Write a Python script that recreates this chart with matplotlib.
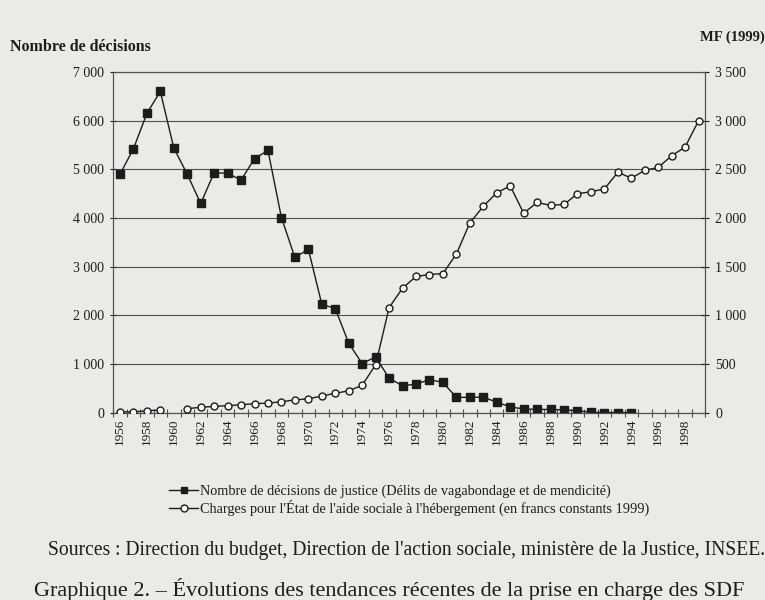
import numpy as np
import matplotlib
matplotlib.use("Agg")
import matplotlib.pyplot as plt
from matplotlib.ticker import FuncFormatter, FixedLocator
from matplotlib.lines import Line2D

plt.rcParams['font.family'] = ['Liberation Serif', 'DejaVu Serif']

years = list(range(1956, 2000))

# Court decisions (vagrancy and begging offences), 1956-1994
decisions = [4900, 5420, 6150, 6600, 5440, 4900, 4300, 4930, 4920, 4780,
             5220, 5390, 4010, 3190, 3360, 2230, 2140, 1430, 1010, 1150,
             710, 555, 590, 680, 625, 315, 320, 320, 220, 120,
             80, 70, 70, 60, 45, 10, 5, 5, 5]

# State expenditure on social housing aid, MF 1999 (1960 not available)
charges = [10, 10, 20, 30, np.nan, 43, 56, 66, 73, 83,
           93, 100, 113, 133, 143, 173, 200, 226, 283, 493,
           1080, 1280, 1400, 1420, 1430, 1630, 1950, 2120, 2260, 2330,
           2050, 2160, 2130, 2140, 2250, 2270, 2300, 2470, 2410, 2490,
           2520, 2640, 2730, 3000]

label_dec = "Nombre de décisions de justice (Délits de vagabondage et de mendicité)"
label_chg = "Charges pour l'État de l'aide sociale à l'hébergement (en francs constants 1999)"

bg = '#eaeae9'
ink = '#1c1c1c'
grid_col = '#505050'

fig = plt.figure(figsize=(7.65, 6.0), dpi=100, facecolor=bg)
ax = fig.add_axes([0.148, 0.312, 0.774, 0.568])
ax.set_facecolor(bg)
ax2 = ax.twinx()

x_dec = np.arange(len(decisions))
x_chg = np.arange(len(charges))

ax.plot(x_dec, decisions, color=ink, lw=1.0, marker='s', ms=5.5,
        mfc=ink, mec=ink, zorder=3)
ax2.plot(x_chg, charges, color=ink, lw=1.0, marker='o', ms=5,
         mfc='white', mec=ink, mew=1.0, zorder=3)

ax.set_xlim(-0.5, len(years) - 0.5)
ax.set_ylim(0, 7000)
ax2.set_ylim(0, 3500)

thousands = FuncFormatter(lambda v, p: f"{int(v):,}".replace(",", " "))
ax.yaxis.set_major_locator(FixedLocator(np.arange(0, 7001, 1000)))
ax2.yaxis.set_major_locator(FixedLocator(np.arange(0, 3501, 500)))
ax.yaxis.set_major_formatter(thousands)
ax2.yaxis.set_major_formatter(thousands)

ax.grid(axis='y', color=grid_col, lw=0.8)
ax.set_axisbelow(True)

# even-year labels centred on categories, tick marks at category boundaries
ax.set_xticks(np.arange(0, len(years), 2))
ax.set_xticklabels([str(y) for y in years[::2]], rotation=90)
ax.set_xticks(np.arange(-0.5, len(years), 1), minor=True)
ax.tick_params(axis='x', which='major', length=0, pad=4, labelsize=9.5, colors=ink)
ax.tick_params(axis='x', which='minor', length=6, direction='inout', width=0.8, color=grid_col)
ax.tick_params(axis='y', length=5, direction='inout', width=0.8, labelsize=10,
               colors=ink, pad=4)
ax2.tick_params(axis='y', length=6, direction='inout', width=0.8, labelsize=10,
                colors=ink, pad=4)

for a in (ax, ax2):
    for s in a.spines.values():
        s.set_color(grid_col)
        s.set_linewidth(0.8)

fig.text(0.013, 0.921, "Nombre de décisions", fontsize=11.5, fontweight='bold',
         color=ink, va='center', ha='left')
fig.text(0.915, 0.938, "MF (1999)", fontsize=10.5, fontweight='bold',
         color=ink, va='center', ha='left')

handles = [
    Line2D([], [], color=ink, lw=1.0, marker='s', ms=5, mfc=ink, mec=ink),
    Line2D([], [], color=ink, lw=1.0, marker='o', ms=5, mfc='white', mec=ink),
]
fig.legend(handles, [label_dec, label_chg], loc='upper center',
           bbox_to_anchor=(0.535, 0.214), frameon=False, fontsize=10.3,
           handlelength=2.0, handletextpad=0.15, labelspacing=0.15,
           labelcolor=ink)

fig.text(0.063, 0.083,
         "Sources : Direction du budget, Direction de l'action sociale, ministère de la Justice, INSEE.",
         fontsize=14.1, color=ink, va='center', ha='left')
fig.text(0.045, 0.006,
         "Graphique 2. – Évolutions des tendances récentes de la prise en charge des SDF",
         fontsize=16, color=ink, va='baseline', ha='left')

fig.savefig("out.png", dpi=100, facecolor=bg)
